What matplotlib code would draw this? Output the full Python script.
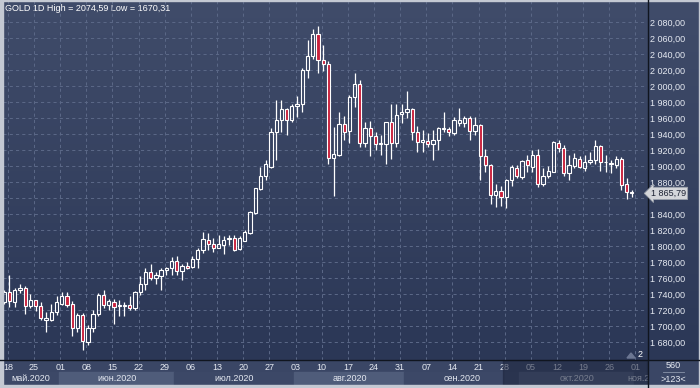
import matplotlib
matplotlib.use("Agg")
import matplotlib.pyplot as plt
import matplotlib.transforms as mtransforms
import numpy as np
import pandas as pd
from matplotlib.patches import Rectangle, Polygon
from matplotlib.colors import LinearSegmentedColormap

plt.rcParams['font.family'] = ['Liberation Sans', 'DejaVu Sans']

# daily candles, 15 May 2020 .. 30 Oct 2020
opens = [1730, 1743, 1730, 1745, 1748, 1725, 1732, 1725, 1708, 1708,
         1717, 1727, 1738, 1727, 1698, 1714, 1680, 1697, 1715, 1739,
         1726, 1730, 1725, 1725, 1726, 1722, 1742, 1753, 1767, 1760,
         1763, 1770, 1772, 1781, 1769, 1775, 1774, 1784, 1795, 1808,
         1803, 1798, 1801, 1809, 1810, 1796, 1806, 1816, 1841, 1871,
         1887, 1899, 1942, 1958, 1971, 1957, 1975, 1977, 2020, 2038,
         2065, 2033, 2028, 1910, 1914, 1953, 1944, 1986, 2003, 1929,
         1947, 1937, 1928, 1928, 1955, 1929, 1965, 1968, 1971, 1943,
         1930, 1931, 1928, 1933, 1946, 1946, 1941, 1954, 1954, 1960,
         1944, 1951, 1912, 1901, 1864, 1869, 1861, 1883, 1898, 1886,
         1907, 1899, 1914, 1878, 1887, 1893, 1929, 1923, 1891, 1900,
         1909, 1898, 1905, 1907, 1925, 1905, 1904, 1901, 1909, 1877,
         1867]
highs = [1745, 1764, 1747, 1753, 1750, 1740, 1733, 1730, 1717, 1727,
         1737, 1743, 1743, 1731, 1716, 1716, 1701, 1720, 1741, 1745,
         1734, 1734, 1732, 1730, 1738, 1744, 1762, 1772, 1778, 1768,
         1773, 1774, 1786, 1788, 1778, 1780, 1787, 1798, 1817, 1816,
         1810, 1814, 1812, 1814, 1814, 1812, 1820, 1844, 1873, 1899,
         1908, 1947, 1983, 1983, 1973, 1977, 1987, 2022, 2058, 2071,
         2074.59, 2051, 2031, 1949, 1967, 1963, 1989, 2016, 2007, 1955,
         1956, 1943, 1939, 1955, 1977, 1977, 1978, 1994, 1973, 1950,
         1945, 1941, 1945, 1949, 1967, 1949, 1961, 1972, 1963, 1962,
         1961, 1953, 1921, 1903, 1878, 1875, 1884, 1901, 1901, 1908,
         1914, 1920, 1921, 1897, 1900, 1931, 1933, 1926, 1914, 1916,
         1913, 1914, 1917, 1933, 1926, 1914, 1908, 1913, 1911, 1885,
         1870]
lows = [1727, 1724, 1724, 1741, 1715, 1722, 1719, 1707, 1693, 1706,
        1714, 1726, 1724, 1688, 1693, 1670.31, 1676, 1692, 1712, 1722,
        1720, 1702, 1712, 1712, 1720, 1720, 1739, 1745, 1757, 1753,
        1745, 1764, 1764, 1764, 1757, 1771, 1773, 1773, 1791, 1795,
        1793, 1797, 1790, 1801, 1794, 1795, 1806, 1815, 1840, 1870,
        1883, 1898, 1907, 1942, 1939, 1955, 1961, 1967, 2010, 2034,
        2016, 2019, 1902, 1862, 1912, 1933, 1929, 1974, 1924, 1924,
        1912, 1920, 1914, 1903, 1909, 1924, 1954, 1960, 1933, 1918,
        1917, 1924, 1907, 1920, 1942, 1938, 1939, 1950, 1949, 1933,
        1939, 1883, 1893, 1853, 1849, 1850, 1848, 1875, 1885, 1884,
        1893, 1893, 1874, 1875, 1885, 1892, 1918, 1887, 1882, 1897,
        1897, 1894, 1903, 1903, 1894, 1892, 1891, 1898, 1870, 1859,
        1861]
closes = [1743, 1731, 1745, 1748, 1725, 1732, 1725, 1710, 1710, 1717,
          1730, 1738, 1726, 1698, 1714, 1681, 1698, 1715, 1739, 1726,
          1731, 1724, 1726, 1726, 1722, 1743, 1753, 1767, 1760, 1764,
          1770, 1773, 1781, 1769, 1775, 1772, 1784, 1795, 1809, 1803,
          1798, 1802, 1808, 1810, 1795, 1810, 1817, 1843, 1872, 1887,
          1902, 1943, 1958, 1971, 1957, 1975, 1977, 2020, 2038, 2065,
          2033, 2028, 1910, 1915, 1953, 1943, 1986, 2003, 1929, 1947,
          1938, 1928, 1929, 1955, 1929, 1964, 1968, 1971, 1943, 1930,
          1933, 1928, 1933, 1947, 1947, 1943, 1957, 1958, 1960, 1944,
          1951, 1912, 1901, 1864, 1869, 1861, 1883, 1899, 1887, 1906,
          1901, 1914, 1878, 1888, 1894, 1930, 1923, 1891, 1901, 1910,
          1899, 1905, 1908, 1925, 1905, 1905.5, 1903, 1909, 1876, 1868,
          1865.79]

week_labels = ["18", "25", "01", "08", "15", "22", "29", "06", "13", "20",
               "27", "03", "10", "17", "24", "31", "07", "14", "21", "28",
               "05", "12", "19", "26", "01"]
month_labels = ["май.2020", "июн.2020", "июл.2020", "авг.2020",
                "сен.2020", "окт.2020"]
price_ticks = np.arange(1680, 2081, 20)
last_price = 1865.79
title = "GOLD 1D High = 2074,59 Low = 1670,31"

dates = pd.bdate_range("2020-05-15", periods=len(opens))
n = len(opens)
idx = np.arange(n)

BG_TOP = "#404c6a"
BG_BOT = "#2b3756"
RED = "#c8203c"
GRID = "#5a6786"
TXT = "#e6eaf2"

W, H = 700, 388
fig = plt.figure(figsize=(W / 100, H / 100), dpi=100)

# background in pixel coords
bg = fig.add_axes([0, 0, 1, 1])
bg.set_xlim(0, W)
bg.set_ylim(H, 0)
bg.axis("off")
grad = np.linspace(0, 1, 256)[:, None]
cmap = LinearSegmentedColormap.from_list("bg", [BG_TOP, BG_BOT])
bg.imshow(grad, extent=[0, W, 360, 0], aspect="auto", cmap=cmap, zorder=0)
bg.add_patch(Rectangle((0, 360), W, 28, color="#3a4665", zorder=0.5))
bg.text(4.6, 8.2, title, color="white", fontsize=6.5, va="center", ha="left")

# main chart axes
ax = fig.add_axes([3 / W, 28 / H, 644 / W, 360 / H])
ax.set_zorder(2)
ax.patch.set_alpha(0)
ax.set_xlim(-0.23, 122.9)
ax.set_ylim(1657.5, 2107.5)
for s in ax.spines.values():
    s.set_visible(False)

week_pos = np.arange(1, 1 + 5 * len(week_labels), 5) - 0.3
for wp in week_pos:
    ax.axvline(wp, color=GRID, lw=0.75, ls=(0, (3, 3)), zorder=0.8)
for pt in price_ticks:
    ax.axhline(pt, color=GRID, lw=0.75, ls=(0, (3, 3)), zorder=0.8)

for i in idx:
    o, h, l, c = opens[i], highs[i], lows[i], closes[i]
    top, bot = max(o, c), min(o, c)
    ax.vlines(i, top, h, color="white", lw=0.9, zorder=3)
    ax.vlines(i, l, bot, color="white", lw=0.9, zorder=3)
    face = RED if c < o else "none"
    ax.add_patch(Rectangle((i - 0.31, bot), 0.62, top - bot, facecolor=face,
                           edgecolor="white", lw=0.8, zorder=4))

# price axis on the right (1860 sits under the last-price tag)
ax.yaxis.tick_right()
ax.set_yticks(price_ticks)
ylabels = [f"{v:,.2f}".replace(",", " ").replace(".", ",") for v in price_ticks]
ylabels = ["" if abs(v - last_price) < 10 else s for v, s in zip(price_ticks, ylabels)]
ax.set_yticklabels(ylabels)
ax.tick_params(axis="y", length=0, pad=2.5, labelsize=6.5, labelcolor=TXT)

# date axis
ax.set_xticks(week_pos)
ax.set_xticklabels(week_labels)
ax.tick_params(axis="x", length=0, pad=2.2, labelsize=6.5, labelcolor=TXT)

# month bands
trans = mtransforms.blended_transform_factory(ax.transData, ax.transAxes)
month_id = dates.month
edges = [-0.5] + [i - 0.5 for i in range(1, n) if month_id[i] != month_id[i - 1]] + [n - 0.5]
band_cols = ["#3c4867", "#4f5c7a"]
y0, y1 = -12 / 360, -25 / 360
for k, lab in enumerate(month_labels):
    a, b = edges[k], edges[k + 1]
    left = max(a, -0.23)
    ax.add_patch(Rectangle((left, y1), b - left, y0 - y1, transform=trans,
                           color=band_cols[k % 2], clip_on=False, zorder=1))
    ax.text((left + b) / 2, (y0 + y1) / 2, lab, transform=trans, ha="center",
            va="center", fontsize=6.5, color=TXT, clip_on=False, zorder=2)
ax.add_patch(Rectangle((edges[-1], y1), 122.9 - edges[-1], y0 - y1, transform=trans,
                       color=band_cols[len(month_labels) % 2], clip_on=False, zorder=1))
ax.text(119.2, (y0 + y1) / 2, "ноя.2", transform=trans, ha="left", va="center",
        fontsize=6.5, color=TXT, clip_on=False, zorder=2)

# dimmed region on the time scale
ax.add_patch(Rectangle((95.4, y1), 122.9 - 95.4, -y1, transform=trans,
                       color="#1c243c", alpha=0.55, clip_on=False, zorder=5))

# separators and frame
bg2 = fig.add_axes([0, 0, 1, 1])
bg2.set_zorder(3)
bg2.patch.set_alpha(0)
bg2.set_xlim(0, W)
bg2.set_ylim(H, 0)
bg2.axis("off")
bg2.plot([0, W], [359.5, 359.5], color="#10151f", lw=1)
bg2.plot([647.5, 647.5], [0, H], color="#10151f", lw=1)
bg2.add_patch(Rectangle((0, 0), 2.5, H, color="#c4c9d3"))
bg2.add_patch(Rectangle((0, 385), W, 3, color="#c4c9d3"))
bg2.add_patch(Rectangle((0, 0), W, 0.8, color="#c4c9d3"))
bg2.add_patch(Rectangle((699, 0), 1, H, color="#c4c9d3"))
bg2.text(673.5, 366, "560", color=TXT, fontsize=6.5, ha="center", va="center")
bg2.plot([663, 684], [372, 372], color="#8a94aa", lw=0.6)
bg2.text(673.5, 379, ">123<", color=TXT, fontsize=6.5, ha="center", va="center")
bg2.text(640, 354.5, "2", color="white", fontsize=6.5, ha="center", va="center")
bg2.add_patch(Polygon([(627, 358), (631, 353), (635, 358)], color="#6b7692"))

# last price tag
ptrans = mtransforms.blended_transform_factory(ax.transAxes, ax.transData)
fig.text(1.006, last_price, "1 865,79", transform=ptrans, fontsize=6.5,
         color="#1c2233", ha="left", va="center", zorder=10,
         bbox=dict(boxstyle="larrow,pad=0.18", fc="#d4d6da", ec="#9aa0ab", lw=0.6))

fig.savefig("out.png", dpi=100)
